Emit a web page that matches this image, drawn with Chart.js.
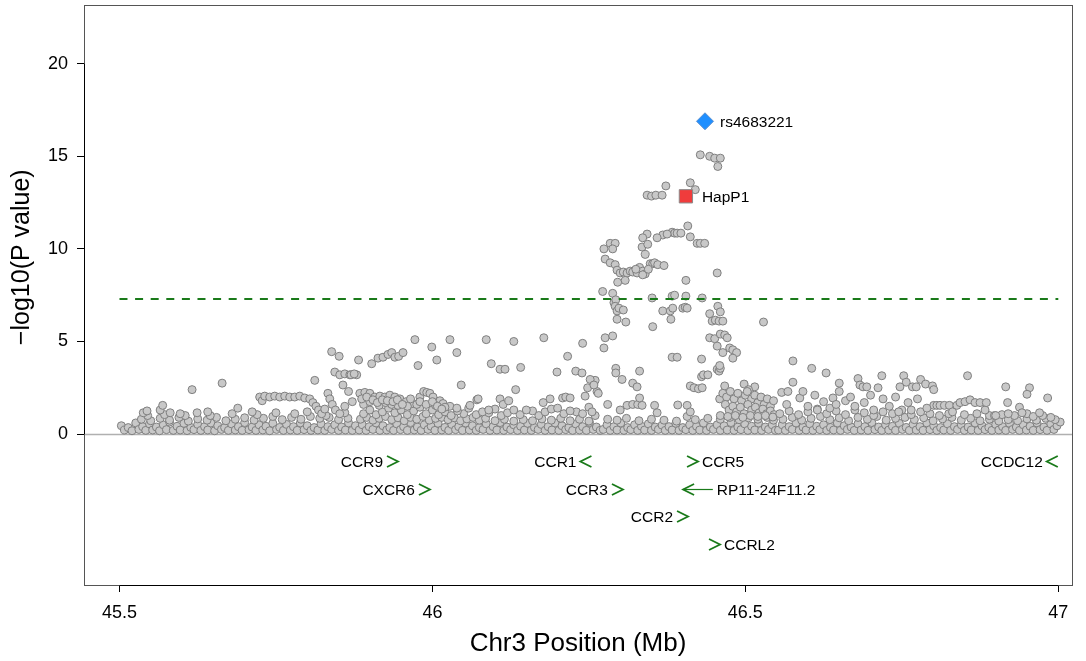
<!DOCTYPE html>
<html>
<head>
<meta charset="utf-8">
<script src="https://cdn.jsdelivr.net/npm/chart.js@4.4.1/dist/chart.umd.min.js"></script>
<style>
html,body{margin:0;padding:0;background:#fff;}
canvas{display:block;}
</style>
</head>
<body>
<canvas id="c" width="1086" height="661"></canvas>
<script>
// ---------- data (Mb position, -log10 P) ----------
const xTicks = [45.5, 46, 46.5, 47];
const yTicks = [0, 5, 10, 15, 20];
const gwsThreshold = 7.3;
const xTitle = 'Chr3 Position (Mb)';
const yTitle = '\u2212log10(P value)';

const leadName = 'rs4683221';
const leadPos = 46.4355, leadLogP = 16.89;
const hapName = 'HapP1';
const hapPos = 46.405, hapLogP = 12.84;

const geneNames = ['CCR9','CXCR6','CCR1','CCR3','CCR2','CCR5','RP11-24F11.2','CCRL2','CCDC12'];
const geneFrom  = [45.941, 45.992, 46.240, 46.300, 46.404, 46.420, 46.448, 46.455, 46.985];
const geneTo    = [45.945, 45.996, 46.2365, 46.3044, 46.4084, 46.4244, 46.4005, 46.4595, 46.9816];
const geneRow   = [-1.45, -2.95, -1.45, -2.95, -4.45, -1.45, -2.95, -5.95, -1.45];
const geneLabelSide = ['left','left','left','left','left','right','right','right','left'];

const snpsLeft = [
[45.503,0.45],[45.508,0.22],[45.514,0.35],[45.52,0.18],[45.526,0.6],[45.531,0.25],[45.537,0.4],[45.542,0.2],[45.548,0.55],[45.553,0.22],[45.559,0.38],[45.564,0.18],[45.57,0.5],[45.575,0.24],[45.58,0.65],[45.586,0.2],[45.592,0.42],[45.597,0.22],[45.603,0.58],[45.608,0.19],[45.614,0.36],[45.619,0.24],[45.625,0.52],[45.63,0.2],[45.636,0.4],[45.641,0.22],[45.646,0.6],[45.652,0.18],[45.657,0.45],[45.663,0.25],[45.668,0.35],[45.674,0.2],[45.679,0.55],[45.685,0.22],[45.69,0.4],[45.696,0.2],[45.70,0.62],[45.707,0.24],[45.712,0.38],[45.718,0.2],[45.723,0.5],[45.729,0.22],[45.734,0.42],[45.74,0.18],[45.745,0.58],[45.751,0.25],[45.756,0.36],[45.762,0.2],[45.767,0.52],[45.773,0.22],[45.778,0.4],[45.784,0.2],[45.789,0.6],[45.795,0.24],[45.80,0.45],[45.806,0.2],[45.811,0.35],[45.817,0.22],[45.822,0.55],[45.828,0.2],[45.833,0.4],[45.839,0.25],[45.844,0.5],[45.85,0.2],[45.855,0.38],[45.861,0.22],[45.866,0.6],[45.872,0.2],[45.877,0.45],
[45.535,0.8],[45.55,0.72],[45.565,0.85],[45.58,0.75],[45.595,0.9],[45.61,0.7],[45.625,0.82],[45.64,0.75],[45.655,0.9],[45.67,0.72],[45.685,0.8],[45.70,0.88],[45.715,0.75],[45.73,0.85],[45.745,0.95],[45.76,0.78],[45.775,0.9],[45.79,0.8],[45.805,0.95],[45.82,0.85],[45.835,0.9],[45.85,0.78],[45.865,0.85],
[45.545,1.0],[45.572,1.05],[45.605,1.0],[45.645,1.0],[45.68,1.1],[45.72,1.05],[45.75,1.15],[45.78,1.1],[45.80,1.2],[45.83,1.0],[45.86,1.15],
[45.538,1.15],[45.544,1.25],[45.565,1.3],[45.569,1.55],[45.581,1.15],[45.597,1.1],[45.616,2.4],[45.624,1.15],[45.641,1.2],[45.664,2.75],[45.689,1.4],[45.712,1.2],
[45.724,2.0],[45.728,1.8],[45.732,2.05],[45.740,2.0],[45.748,2.05],[45.756,2.0],[45.764,2.05],[45.772,2.0],[45.780,2.0],[45.788,2.05],[45.796,1.95],[45.804,1.9],[45.809,1.7],[45.814,1.5],[45.818,1.3],[45.823,1.1],[45.828,1.35],[45.812,2.9],
[45.833,2.2],[45.836,1.9],[45.840,1.6],[45.845,1.3],[45.852,1.1],[45.839,4.45],[45.851,4.2],[45.844,3.35],[45.852,3.2],[45.860,3.25],[45.868,3.2],[45.879,3.2],[45.857,2.65],[45.866,2.3],[45.872,1.75],[45.86,1.5]
];

const snpsMid = [
[45.883,0.22],[45.888,0.5],[45.894,0.2],[45.899,0.4],[45.905,0.25],[45.91,0.6],[45.916,0.2],[45.921,0.45],[45.927,0.22],[45.932,0.35],[45.938,0.2],[45.943,0.55],[45.949,0.24],[45.954,0.4],[45.96,0.2],[45.965,0.62],[45.971,0.22],[45.976,0.38],[45.982,0.2],[45.987,0.5],[45.993,0.25],[45.998,0.42],[46.004,0.2],[46.009,0.58],[46.015,0.22],[46.02,0.36],[46.026,0.2],[46.031,0.52],[46.037,0.24],[46.042,0.4],[46.048,0.2],[46.053,0.6],[46.059,0.22],[46.064,0.45],[46.07,0.2],[46.075,0.35],[46.081,0.25],[46.086,0.55],[46.092,0.2],[46.097,0.4],[46.103,0.22],[46.108,0.62],[46.114,0.2],[46.119,0.38],[46.125,0.24],[46.13,0.5],[46.136,0.2],[46.141,0.42],[46.147,0.22],[46.152,0.58],[46.158,0.2],[46.163,0.36],[46.169,0.25],[46.174,0.52],[46.18,0.2],[46.185,0.4],[46.191,0.22],[46.196,0.6],[46.202,0.2],[46.207,0.45],[46.213,0.24],[46.218,0.35],[46.224,0.2],[46.229,0.55],[46.235,0.22],[46.24,0.4],[46.246,0.2],[46.251,0.62],[46.257,0.25],[46.262,0.38],[46.268,0.2],
[45.885,0.8],[45.895,0.9],[45.905,0.75],[45.915,0.85],[45.925,0.95],[45.935,0.78],[45.945,0.88],[45.955,0.72],[45.965,0.9],[45.975,0.8],[45.985,0.95],[45.995,0.75],[46.005,0.85],[46.015,0.9],[46.025,0.78],[46.035,0.88],[46.045,0.72],[46.055,0.82],[46.065,0.9],[46.075,0.75],[46.085,0.85],[46.1,0.72],[46.115,0.8],[46.13,0.7],[46.145,0.78],[46.16,0.72],[46.175,0.82],[46.19,0.75],[46.205,0.85],[46.22,0.72],[46.235,0.8],[46.25,0.7],
[45.89,1.1],[45.90,1.3],[45.91,1.05],[45.92,1.2],[45.93,1.4],[45.94,1.15],[45.95,1.3],[45.96,1.05],[45.97,1.25],[45.98,1.45],[45.99,1.1],[46.0,1.3],[46.01,1.05],[46.02,1.2],[46.03,1.0],[46.05,1.1],[46.07,1.05],[46.09,1.15],[46.11,1.0],[46.14,1.05],[46.17,1.0],[46.21,1.1],[46.23,1.2],[46.26,1.0],
[46.04,1.25],[46.08,1.2],[46.10,1.35],[46.12,1.15],[46.13,1.3],[46.18,1.2],[46.19,1.35],[46.22,1.25],[46.25,1.45],
[45.884,2.2],[45.892,2.25],[45.900,2.2],[45.908,2.0],[45.916,2.05],[45.924,2.0],[45.932,2.1],[45.940,2.0],[45.948,1.9],[45.958,1.75],[45.969,1.65],[45.980,2.0],[45.986,2.3],[45.991,2.25],[45.996,2.2],[46.001,2.0],[46.012,1.8],[46.017,1.65],[46.028,1.5],[46.039,1.4],
[45.89,1.6],[45.90,1.75],[45.915,1.55],[45.925,1.7],[45.935,1.6],[45.945,1.55],[45.96,1.5],[45.975,1.6],[46.005,1.55],[46.02,1.45],
[45.887,1.9],[45.895,2.0],[45.905,1.85],[45.912,1.7],[45.92,1.85],[45.928,1.8],[45.937,1.75],[45.944,1.85],[45.952,1.6],[45.965,1.9],[45.98,1.75],[45.99,1.6],[46.0,1.75],[46.008,1.5],[46.015,1.35],
[45.882,4.0],[45.903,3.8],[45.913,4.1],[45.921,4.15],[45.929,4.3],[45.935,4.4],[45.940,4.15],[45.946,4.2],[45.953,4.4],[45.972,5.1],[45.977,3.7],[45.999,4.7],[46.007,4.0],[46.028,5.1],[46.039,4.4],[46.046,2.65],[46.086,5.1],[46.094,3.8],[46.108,3.5],[46.116,3.5],[46.130,5.0],[46.141,3.6],[46.133,2.4],[46.178,5.2],[46.199,3.35],[46.216,4.2],[46.229,3.4],[46.239,3.3],[46.240,4.9],[46.260,2.9],[45.87,3.2],[45.875,3.25],
[46.071,1.85],[46.073,1.9],[46.058,1.4],[46.108,1.9],[46.113,1.6],[46.122,1.8],[46.177,1.7],[46.188,1.9],[46.200,1.4],[46.208,1.95],[46.213,2.0],[46.220,1.95],[46.244,2.05],[46.248,2.5],[46.263,2.3],[46.255,1.2],[46.240,1.1],[46.16,1.25],[46.15,1.3],[46.09,1.3],[46.06,1.55],[46.252,2.95],[46.258,2.65],[46.265,2.2]
];

const snpsPeak = [
[46.273,0.25],[46.279,0.5],[46.284,0.2],[46.29,0.4],[46.295,0.22],[46.301,0.6],[46.306,0.2],[46.312,0.35],[46.317,0.24],[46.323,0.5],[46.328,0.2],[46.334,0.42],[46.339,0.22],[46.345,0.55],[46.35,0.2],[46.356,0.38],[46.361,0.25],[46.367,0.48],[46.372,0.2],[46.378,0.4],[46.383,0.22],[46.389,0.58],[46.394,0.2],[46.40,0.35],[46.405,0.24],[46.411,0.5],[46.416,0.2],[46.422,0.42],[46.427,0.22],[46.433,0.6],[46.438,0.2],[46.444,0.38],[46.449,0.25],[46.455,0.5],[46.46,0.2],[46.466,0.45],[46.471,0.22],[46.477,0.62],[46.482,0.2],[46.488,0.38],[46.493,0.24],[46.499,0.55],[46.504,0.2],[46.51,0.42],[46.515,0.22],[46.521,0.6],[46.526,0.2],[46.532,0.38],[46.537,0.25],[46.543,0.5],[46.548,0.2],
[46.28,0.8],[46.295,0.75],[46.31,0.85],[46.33,0.72],[46.35,0.8],[46.37,0.75],[46.39,0.7],[46.42,0.78],[46.44,0.85],[46.46,0.8],[46.475,0.9],[46.49,0.78],[46.505,0.88],[46.52,0.8],[46.535,0.9],[46.545,0.75],
[46.408,11.24],[46.383,10.9],[46.387,10.85],[46.391,10.85],[46.397,10.85],[46.368,10.75],[46.359,10.6],[46.375,10.8],[46.412,10.65],[46.423,10.3],[46.428,10.3],[46.435,10.3],[46.343,10.8],[46.336,10.6],[46.335,10.1],[46.344,10.25],[46.340,9.7],
[46.284,10.3],[46.292,10.3],[46.274,10.0],[46.288,10.0],
[46.276,9.45],[46.284,9.25],[46.292,9.15],[46.295,8.85],[46.300,8.7],[46.305,8.75],[46.311,8.7],[46.316,8.8],[46.320,8.75],[46.296,8.2],[46.308,8.3],[46.327,8.7],[46.331,9.0],[46.336,8.8],[46.340,8.65],[46.348,9.2],[46.352,9.2],[46.355,9.25],[46.360,9.15],[46.370,9.1],[46.336,8.6],[46.325,8.9],[46.345,8.9],
[46.272,7.7],[46.288,7.6],[46.290,7.1],[46.293,7.25],[46.292,6.9],[46.295,6.65],[46.295,6.2],[46.298,6.8],[46.305,6.7],[46.309,6.05],[46.351,7.35],[46.383,7.45],[46.387,7.5],[46.405,7.45],[46.405,8.3],[46.431,7.35],[46.455,8.7],
[46.368,6.65],[46.380,6.65],[46.381,6.2],[46.384,6.8],[46.400,6.8],[46.404,6.85],[46.407,6.8],
[46.352,5.8],[46.443,6.5],[46.447,6.1],[46.452,6.15],[46.458,6.1],[46.464,6.1],[46.456,6.9],[46.460,6.6],[46.529,6.05],
[46.276,5.2],[46.288,5.3],[46.274,4.65],[46.383,4.15],[46.391,4.15],[46.430,4.05],
[46.443,5.2],[46.451,5.15],[46.460,5.4],[46.467,5.35],[46.471,5.2],[46.455,4.75],[46.464,4.4],[46.475,4.65],[46.480,4.55],[46.486,4.4],[46.480,4.1],
[46.293,3.55],[46.293,3.3],[46.303,2.95],[46.331,3.4],[46.320,2.75],[46.327,2.55],[46.280,1.6],[46.300,1.3],[46.311,1.55],[46.320,1.6],[46.328,1.6],[46.335,1.55],[46.331,1.95],[46.355,1.55],[46.359,1.15],[46.392,1.57],[46.407,1.55],[46.407,0.95],[46.412,1.2],
[46.430,3.1],[46.433,3.2],[46.440,3.2],[46.455,3.5],[46.458,3.4],[46.460,3.55],[46.459,3.7],[46.467,2.6],[46.412,2.6],[46.418,2.5],[46.425,2.45],[46.431,2.5],[46.498,2.7],[46.515,2.55],[46.459,1.9],
[46.464,2.2],[46.47,2.0],[46.476,2.3],[46.482,1.9],[46.488,2.2],[46.494,1.8],[46.50,2.1],[46.505,2.4],[46.51,1.9],[46.515,2.1],[46.52,1.7],[46.525,2.0],[46.53,1.6],[46.535,1.9],[46.54,1.5],[46.545,1.8],[46.468,1.6],[46.474,1.3],[46.48,1.5],[46.486,1.2],[46.492,1.45],[46.498,1.1],[46.504,1.6],[46.51,1.3],[46.516,1.45],[46.522,1.15],[46.528,1.35],[46.534,1.1],[46.54,1.25],[46.546,1.05],[46.46,1.0],[46.472,0.95],[46.484,1.0],[46.496,0.9],[46.508,1.0],[46.52,0.95],[46.532,1.0],[46.544,0.92],[46.503,2.3],
[46.428,15.08],[46.443,15.0],[46.451,14.9],[46.460,14.9],[46.456,14.45],
[46.412,13.57],[46.420,13.2],[46.373,13.4],[46.343,12.9],[46.350,12.85],[46.357,12.9],[46.367,12.9]
];

const snpsRight = [
[46.553,0.22],[46.559,0.5],[46.564,0.2],[46.57,0.4],[46.575,0.25],[46.581,0.6],[46.586,0.2],[46.592,0.38],[46.597,0.22],[46.603,0.55],[46.608,0.2],[46.614,0.42],[46.619,0.24],[46.625,0.5],[46.63,0.2],[46.636,0.36],[46.641,0.22],[46.647,0.6],[46.652,0.2],[46.658,0.45],[46.663,0.25],[46.669,0.38],[46.674,0.2],[46.68,0.55],[46.685,0.22],[46.691,0.4],[46.696,0.2],[46.702,0.62],[46.707,0.24],[46.713,0.38],[46.718,0.2],[46.724,0.5],[46.729,0.22],[46.735,0.42],[46.74,0.2],[46.746,0.58],[46.751,0.25],[46.757,0.36],[46.762,0.2],[46.768,0.52],[46.773,0.22],[46.779,0.4],[46.784,0.2],[46.79,0.6],[46.795,0.24],[46.801,0.45],[46.806,0.2],[46.812,0.35],[46.817,0.22],[46.823,0.55],[46.828,0.2],[46.834,0.4],[46.839,0.25],[46.845,0.5],[46.85,0.2],[46.856,0.38],[46.861,0.22],[46.867,0.6],[46.872,0.2],[46.878,0.45],[46.883,0.24],[46.889,0.36],[46.894,0.2],[46.90,0.52],[46.905,0.22],[46.911,0.4],[46.916,0.2],[46.922,0.58],[46.927,0.25],[46.933,0.38],[46.938,0.2],[46.944,0.5],[46.949,0.22],[46.955,0.42],[46.96,0.2],[46.966,0.6],[46.971,0.24],[46.977,0.38],[46.982,0.2],[46.988,0.55],[46.993,0.25],[46.998,0.45],[47.003,0.65],
[46.56,0.8],[46.575,0.9],[46.59,0.75],[46.605,0.85],[46.62,0.95],[46.635,0.78],[46.65,0.88],[46.665,0.72],[46.68,0.9],[46.695,0.8],[46.71,0.95],[46.725,0.75],[46.74,0.85],[46.755,0.9],[46.77,0.78],[46.785,0.88],[46.80,0.72],[46.815,0.82],[46.83,0.9],[46.845,0.75],[46.86,0.85],[46.875,0.72],[46.89,0.8],[46.905,0.7],[46.92,0.78],[46.935,0.72],[46.95,0.82],[46.965,0.75],[46.98,0.85],[46.995,0.78],
[46.555,1.1],[46.57,1.25],[46.585,1.05],[46.60,1.2],[46.615,1.35],[46.63,1.1],[46.645,1.25],[46.66,1.05],[46.675,1.3],[46.69,1.15],[46.705,1.0],[46.72,1.2],[46.735,1.1],[46.75,1.3],[46.765,1.05],[46.78,1.2],[46.795,1.1],[46.81,1.0],[46.825,1.1],[46.85,1.05],[46.87,1.1],[46.89,1.0],[46.91,1.05],[46.93,1.0],[46.95,1.1],[46.975,1.0],
[46.576,3.95],[46.606,3.55],[46.629,3.3],[46.576,2.8],[46.650,2.75],[46.680,3.0],[46.683,2.65],[46.688,2.55],[46.694,2.55],[46.718,3.15],[46.712,2.5],[46.753,3.15],[46.757,2.8],[46.767,2.55],[46.747,2.55],[46.773,2.55],[46.780,2.95],[46.788,2.7],[46.799,2.6],[46.801,2.4],[46.855,3.15],[46.916,2.55],[46.954,2.5],[46.950,2.15],[46.983,1.95],[46.919,1.7],[46.938,1.45],[46.942,1.15],
[46.558,2.25],[46.568,2.3],[46.587,1.95],[46.592,2.3],[46.611,2.1],[46.640,1.95],[46.650,2.3],[46.566,1.6],
[46.801,1.55],[46.806,1.55],[46.811,1.55],[46.818,1.55],[46.826,1.55],[46.831,1.2],[46.838,1.55],[46.843,1.7],[46.851,1.75],[46.859,1.85],[46.867,1.7],[46.875,1.7],[46.883,1.3],[46.885,1.7],[46.898,1.0],
[46.60,1.5],[46.615,1.3],[46.625,1.75],[46.635,1.4],[46.645,1.6],[46.66,1.8],[46.668,2.0],[46.675,1.5],[46.69,1.7],[46.70,2.1],[46.705,1.3],[46.72,1.9],[46.73,1.5],[46.74,2.0],[46.745,1.2],[46.76,1.7],[46.765,1.3],[46.775,1.9],[46.79,1.4],[46.90,1.0],[46.92,1.1],[46.96,0.95],[46.97,1.15],[46.988,0.9]
];

// ---------- chart ----------
const FONT = "'Liberation Sans', Arial, Helvetica, sans-serif";
Chart.defaults.font.family = FONT;
Chart.defaults.color = '#000';

const toXY = arr => arr.map(([x, y]) => ({x, y}));
const allSnps = toXY([...snpsLeft, ...snpsMid, ...snpsPeak, ...snpsRight]);

const GREEN = '#1a7a1a';

const annot = {
  id: 'annot',
  beforeDatasetsDraw(chart) {
    const {ctx, chartArea: a, scales: {y}} = chart;
    const y0 = Math.round(y.getPixelForValue(0)) + 0.5;
    ctx.save();
    ctx.strokeStyle = '#b0b0b0';
    ctx.lineWidth = 1.5;
    ctx.beginPath(); ctx.moveTo(a.left, y0); ctx.lineTo(a.right, y0); ctx.stroke();
    ctx.restore();
  },
  afterDatasetsDraw(chart) {
    const {ctx, chartArea: a, scales: {x, y}} = chart;
    ctx.save();
    ctx.font = '15.5px ' + FONT;
    ctx.fillStyle = '#000';
    ctx.textBaseline = 'middle';
    ctx.textAlign = 'left';
    ctx.fillText(leadName, x.getPixelForValue(leadPos) + 15, y.getPixelForValue(leadLogP) + 1);
    ctx.fillText(hapName, x.getPixelForValue(hapPos) + 16, y.getPixelForValue(hapLogP) + 1);

    // genes
    const head = 11, half = 5.5;
    geneNames.forEach((name, i) => {
      const fx = x.getPixelForValue(geneFrom[i]);
      const tx = x.getPixelForValue(geneTo[i]);
      const yc = Math.round(y.getPixelForValue(geneRow[i])) + 0.5;
      const dir = tx >= fx ? 1 : -1;
      ctx.strokeStyle = GREEN;
      if (Math.abs(tx - fx) > head + 2) {
        ctx.lineWidth = 1.2;
        ctx.beginPath(); ctx.moveTo(fx, yc); ctx.lineTo(tx, yc); ctx.stroke();
      }
      ctx.lineWidth = 1.8;
      ctx.beginPath();
      ctx.moveTo(tx - dir * head, yc - half);
      ctx.lineTo(tx, yc);
      ctx.lineTo(tx - dir * head, yc + half);
      ctx.stroke();
      const left = Math.min(fx, tx, tx - dir * head);
      const right = Math.max(fx, tx, tx - dir * head);
      ctx.fillStyle = '#000';
      if (geneLabelSide[i] === 'left') {
        ctx.textAlign = 'right';
        ctx.fillText(name, left - 4, yc + 1);
      } else {
        ctx.textAlign = 'left';
        ctx.fillText(name, right + 4, yc + 1);
      }
    });

    // frame
    ctx.strokeStyle = '#555';
    ctx.lineWidth = 1;
    ctx.strokeRect(Math.round(a.left) + 0.5, Math.round(a.top) + 0.5, Math.round(a.right - a.left), Math.round(a.bottom - a.top));
    ctx.strokeStyle = '#000';
    ctx.beginPath();
    ctx.moveTo(Math.round(a.left) + 0.5, y.getPixelForValue(yTicks[0]));
    ctx.lineTo(Math.round(a.left) + 0.5, y.getPixelForValue(yTicks[yTicks.length - 1]));
    ctx.moveTo(x.getPixelForValue(xTicks[0]), Math.round(a.bottom) + 0.5);
    ctx.lineTo(x.getPixelForValue(xTicks[xTicks.length - 1]), Math.round(a.bottom) + 0.5);
    ctx.stroke();

    // y axis title
    ctx.save();
    ctx.translate(22, y.getPixelForValue(9.55));
    ctx.rotate(-Math.PI / 2);
    ctx.font = '25px ' + FONT;
    ctx.textAlign = 'center';
    ctx.textBaseline = 'middle';
    ctx.fillStyle = '#000';
    ctx.fillText(yTitle, 0, 0);
    ctx.restore();
    ctx.restore();
  }
};

new Chart(document.getElementById('c'), {
  type: 'scatter',
  data: {
    datasets: [
      {
        type: 'line',
        data: [{x: xTicks[0], y: gwsThreshold}, {x: xTicks[xTicks.length - 1], y: gwsThreshold}],
        borderColor: GREEN, borderWidth: 2, borderDash: [8, 7.6],
        pointRadius: 0, fill: false, order: 0
      },
      {
        data: allSnps,
        pointRadius: 4, pointBorderWidth: 1,
        backgroundColor: '#c8c8c8', borderColor: '#7f7f7f',
        order: 1
      },
      {
        data: [{x: hapPos, y: hapLogP}],
        pointStyle: 'rect', pointRadius: 9.4, pointBorderWidth: 1,
        backgroundColor: '#f03c3c', borderColor: '#8a8a8a',
        order: -1
      },
      {
        data: [{x: leadPos, y: leadLogP}],
        pointStyle: 'rectRot', pointRadius: 8.5, pointBorderWidth: 1,
        backgroundColor: '#1f8fff', borderColor: '#5b8fd0',
        order: -2
      }
    ]
  },
  options: {
    responsive: false,
    animation: false,
    events: [],
    layout: {autoPadding: false, padding: {top: 5, right: 14, left: 0, bottom: 0}},
    plugins: {legend: {display: false}, tooltip: {enabled: false}},
    scales: {
      x: {
        type: 'linear', min: 45.4433, max: 47.0219,
        afterBuildTicks: s => { s.ticks = xTicks.map(v => ({value: v})); },
        afterFit: s => { s.height = 76; s.paddingLeft = 0; s.paddingRight = 0; },
        ticks: {callback: v => String(v), font: {size: 18}, color: '#000', padding: 10, maxRotation: 0, autoSkip: false},
        grid: {drawOnChartArea: false, drawTicks: true, tickLength: 7, tickColor: '#000', tickWidth: 1},
        border: {display: false},
        title: {display: true, text: xTitle, font: {size: 26}, color: '#000', padding: {top: 0, bottom: 2}}
      },
      y: {
        type: 'linear', min: -8.15, max: 23.17,
        afterBuildTicks: s => { s.ticks = yTicks.map(v => ({value: v})); },
        afterFit: s => { s.width = 84; s.paddingTop = 0; s.paddingBottom = 0; },
        ticks: {callback: v => String(v), font: {size: 18}, color: '#000', padding: 9, autoSkip: false},
        grid: {drawOnChartArea: false, drawTicks: true, tickLength: 7, tickColor: '#000', tickWidth: 1},
        border: {display: false},
        title: {display: false}
      }
    }
  },
  plugins: [annot]
});
</script>
</body>
</html>
